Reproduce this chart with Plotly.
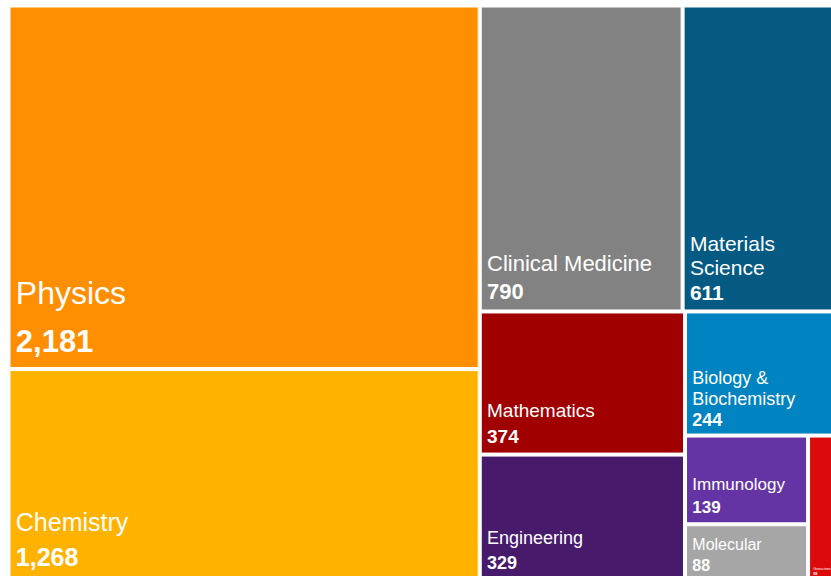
import plotly.graph_objects as go

# ---- data ----
categories = ["Physics", "Chemistry", "Clinical Medicine", "Materials Science",
              "Mathematics", "Engineering", "Biology & Biochemistry",
              "Immunology", "Molecular", "Geosciences"]
counts = [2181, 1268, 790, 611, 374, 329, 244, 139, 88, 58]

# ---- styles (kept separate from data) ----
colors = ["#FF8F00", "#FFB300", "#828282", "#045A82", "#A00000",
          "#481A6B", "#0083C1", "#6534A4", "#A6A6A6", "#DC0A0A"]
base_sizes = [37, 27, 22, 19, 20, 19, 16, 18, 16, 16]      # controls line spacing
label_sizes = [32, 25, 22, 21, 19, 18, 18, 17, 16, 16]
value_sizes = [31, 25, 22, 21, 19, 18, 18, 17, 16, 16]
wrap = {"Materials Science": "Materials<br>Science",
        "Biology & Biochemistry": "Biology &<br>Biochemistry"}

PAD = "<span style='font-size:10px'>&nbsp;</span>"

texts = []
for n, v, ls, vs in zip(categories, counts, label_sizes, value_sizes):
    lines = wrap.get(n, n).split("<br>")
    lab = "<br>".join(f"{PAD}<span style='font-size:{ls}px'>{ln}</span>" for ln in lines)
    val = f"{PAD}<span style='font-size:{vs}px'><b>{v:,}</b></span><sub>&nbsp;</sub>"
    texts.append(lab + "<br>" + val)

fig = go.Figure(go.Treemap(
    labels=categories,
    parents=[""] * len(categories),
    values=counts,
    text=texts,
    textinfo="text",
    textposition="bottom left",
    textfont=dict(family="Arial, Liberation Sans, sans-serif", color="white", size=base_sizes),
    marker=dict(colors=colors, line=dict(width=1, color="white"),
                pad=dict(t=0, l=0, r=0, b=0)),
    tiling=dict(pad=3, squarifyratio=1.618),
    pathbar=dict(visible=False),
    sort=True,
    hoverinfo="label+value",
))

fig.update_layout(
    width=838, height=579,
    margin=dict(l=10, r=0, t=7, b=0),
    paper_bgcolor="white",
    showlegend=False,
)

fig.write_html("out.html", config={"displayModeBar": False},
               post_script="document.body.style.margin='0';document.body.style.overflow='hidden';")
